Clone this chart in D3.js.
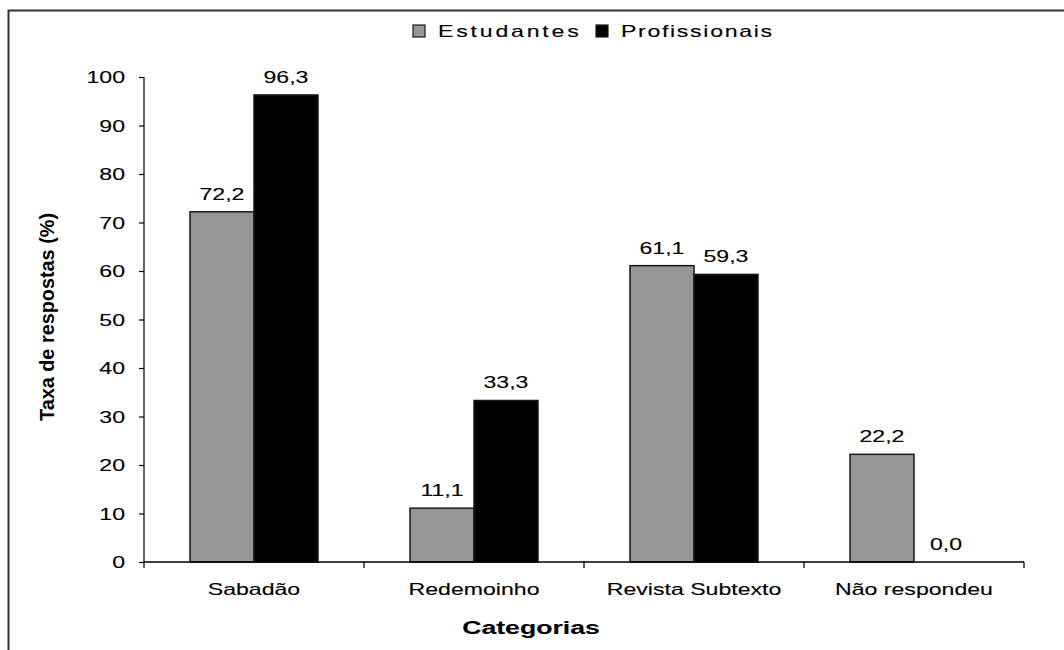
<!DOCTYPE html>
<html><head><meta charset="utf-8">
<script src="https://cdn.jsdelivr.net/npm/d3@7"></script>
<style>
html,body{margin:0;padding:0;background:#fff;}
svg{display:block;font-family:"Liberation Sans",Arial,sans-serif;}
</style></head>
<body>
<svg id="chart" width="1064" height="650"></svg>
<script>
const categories = ["Sabadão", "Redemoinho", "Revista Subtexto", "Não respondeu"];
const seriesNames = ["Estudantes", "Profissionais"];
const estudantes = [72.2, 11.1, 61.1, 22.2];
const profissionais = [96.3, 33.3, 59.3, 0.0];
const yTicks = [0, 10, 20, 30, 40, 50, 60, 70, 80, 90, 100];
const colors = ["#969696", "#000000"];

const svg = d3.select("#chart");
const SX = 1.4; // horizontal stretch of the original text

// frame
svg.append("path")
  .attr("d", `M8.5,650 L8.5,10.5 L1064,10.5`)
  .attr("fill", "none").attr("stroke", "#333").attr("stroke-width", 2);

const x0 = d3.scaleBand().domain(categories).range([144, 1024]).paddingInner(0).paddingOuter(0);
const x1 = d3.scaleBand().domain(seriesNames).range([0, 128]);
const y = d3.scaleLinear().domain([0, 100]).range([562, 77]);

function stext(g, xx, yy, txt, opts) {
  const o = Object.assign({size: 16.5, weight: "normal", anchor: "middle", sx: SX, sw: 0.12, ls: 0}, opts || {});
  return g.append("text")
    .attr("transform", `translate(${xx},${yy}) scale(${o.sx},1)`)
    .attr("text-anchor", o.anchor)
    .attr("font-size", o.size)
    .attr("font-weight", o.weight)
    .attr("letter-spacing", o.ls)
    .attr("fill", "#000")
    .attr("stroke", "#000")
    .attr("stroke-width", o.sw)
    .text(txt);
}

const data = categories.map((c, i) => ({cat: c, vals: [estudantes[i], profissionais[i]]}));

// bars
const groups = svg.append("g").selectAll("g").data(data).join("g")
  .attr("transform", d => `translate(${x0(d.cat) + (x0.bandwidth() - 128) / 2},0)`);
groups.selectAll("rect").data(d => d.vals.map((v, j) => ({v, j}))).join("rect")
  .attr("x", d => x1(seriesNames[d.j]))
  .attr("width", x1.bandwidth())
  .attr("y", d => y(d.v))
  .attr("height", d => y(0) - y(d.v))
  .attr("fill", d => colors[d.j])
  .attr("stroke", d => d.v > 0 ? "#1a1a1a" : "none")
  .attr("stroke-width", 1.5);

// value labels
groups.each(function(d) {
  const g = d3.select(this);
  d.vals.forEach((v, j) => {
    const cx = x1(seriesNames[j]) + x1.bandwidth() / 2;
    stext(g, cx, y(v) - 12, v.toFixed(1).replace(".", ","));
  });
});

// y axis
const yAxis = svg.append("g").attr("transform", "translate(144,0)")
  .call(d3.axisLeft(y).tickValues(yTicks).tickSize(5).tickFormat(""));
yAxis.select(".domain").attr("stroke", "#000").attr("stroke-width", 1.2).attr("d", "M0,77V562");
yAxis.selectAll(".tick line").attr("stroke", "#000").attr("stroke-width", 1.2);
yTicks.forEach(t => stext(svg, 125, y(t) + 6, String(t), {anchor: "end"}));

// x axis
const xAxis = svg.append("g").attr("transform", "translate(0,562)");
xAxis.append("line").attr("x1", 144).attr("x2", 1024).attr("y1", 0).attr("y2", 0)
  .attr("stroke", "#000").attr("stroke-width", 1.5);
const boundaries = categories.map(c => x0(c)).concat([x0(categories[categories.length - 1]) + x0.bandwidth()]);
xAxis.selectAll("line.tk").data(boundaries).join("line").attr("class", "tk")
  .attr("x1", d => d).attr("x2", d => d).attr("y1", 0).attr("y2", 6)
  .attr("stroke", "#000").attr("stroke-width", 1.2);
categories.forEach(c => stext(svg, x0(c) + x0.bandwidth() / 2, 595, c));

// axis titles
stext(svg, 531, 634, "Categorias", {size: 18, weight: "bold", sx: 1.48, sw: 0.1});
svg.append("text")
  .attr("transform", "translate(54,317) scale(1.25,1) rotate(-90)")
  .attr("text-anchor", "middle")
  .attr("font-size", 16)
  .attr("font-weight", "bold")
  .attr("textLength", 208)
  .attr("lengthAdjust", "spacingAndGlyphs")
  .attr("fill", "#000")
  .text("Taxa de respostas (%)");

// legend
const leg = svg.append("g");
const legItems = [{x: 413, name: seriesNames[0], c: colors[0], ls: 2}, {x: 596, name: seriesNames[1], c: colors[1], ls: 1.2}];
legItems.forEach(it => {
  leg.append("rect").attr("x", it.x).attr("y", 25).attr("width", 12).attr("height", 12)
    .attr("fill", it.c).attr("stroke", "#1a1a1a").attr("stroke-width", 1.2);
  stext(leg, it.x + 25, 37, it.name, {anchor: "start", ls: it.ls});
});
</script>
</body></html>
